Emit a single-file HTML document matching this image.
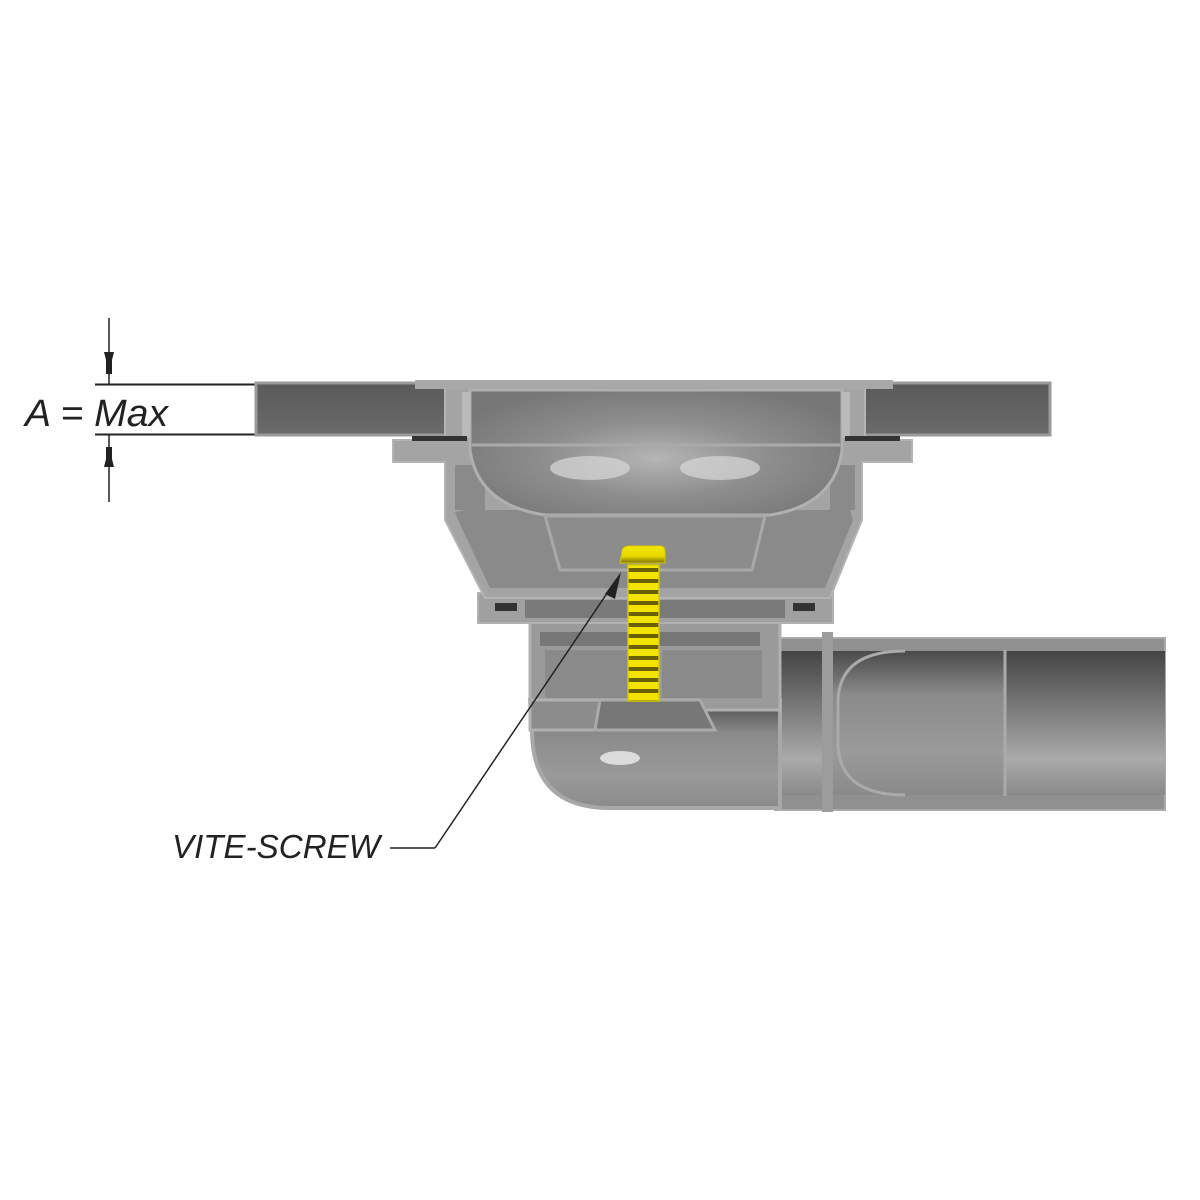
<!DOCTYPE html>
<html><head><meta charset="utf-8"><style>
html,body{margin:0;padding:0;background:#fff;width:1200px;height:1200px;overflow:hidden}
svg{display:block}
text{font-family:"Liberation Sans",sans-serif;font-style:italic;fill:#222}
</style></head><body>
<svg width="1200" height="1200" viewBox="0 0 1200 1200" xmlns="http://www.w3.org/2000/svg">
<defs>
<linearGradient id="pipe" x1="0" y1="0" x2="0" y2="1">
<stop offset="0" stop-color="#4a4a4a"/><stop offset="0.3" stop-color="#8a8a8a"/><stop offset="0.7" stop-color="#9a9a9a"/><stop offset="1" stop-color="#8a8a8a"/></linearGradient>
<linearGradient id="pipe2" x1="0" y1="0" x2="0" y2="1">
<stop offset="0" stop-color="#444"/><stop offset="0.25" stop-color="#666"/><stop offset="0.75" stop-color="#aaa"/><stop offset="1" stop-color="#8a8a8a"/></linearGradient>
<radialGradient id="bowl" cx="0.5" cy="0.55" r="0.6">
<stop offset="0" stop-color="#b5b5b5"/><stop offset="0.5" stop-color="#8e8e8e"/><stop offset="1" stop-color="#777"/></radialGradient>
<linearGradient id="slab" x1="0" y1="0" x2="0" y2="1"><stop offset="0" stop-color="#5a5a5a"/><stop offset="1" stop-color="#6a6a6a"/></linearGradient>
<linearGradient id="yel" x1="0" y1="0" x2="0" y2="1"><stop offset="0" stop-color="#f4e800"/><stop offset="0.6" stop-color="#e8d800"/><stop offset="1" stop-color="#7a6e00"/></linearGradient>
<pattern id="thread" width="30" height="11" patternUnits="userSpaceOnUse"><rect width="30" height="11" fill="#f2e400"/><rect y="7" width="30" height="4" fill="#6a6000"/></pattern>
</defs>

<!-- dimension -->
<line x1="95" y1="384.5" x2="256" y2="384.5" stroke="#222" stroke-width="2"/>
<line x1="95" y1="434.5" x2="256" y2="434.5" stroke="#222" stroke-width="2"/>
<line x1="109" y1="318" x2="109" y2="384" stroke="#222" stroke-width="1.5"/>
<polygon points="104,352 114,352 109,372" fill="#222"/>
<rect x="106" y="360" width="6" height="14" fill="#222"/>
<line x1="109" y1="435" x2="109" y2="502" stroke="#222" stroke-width="1.5"/>
<polygon points="104,467 114,467 109,447" fill="#222"/>
<rect x="106" y="447" width="6" height="14" fill="#222"/>
<text x="25" y="426" font-size="38" textLength="143" lengthAdjust="spacingAndGlyphs">A = Max</text>

<!-- slabs -->
<rect x="256" y="383" width="214" height="52" fill="url(#slab)" stroke="#9a9a9a" stroke-width="3"/>
<rect x="840" y="383" width="210" height="52" fill="url(#slab)" stroke="#9a9a9a" stroke-width="3"/>

<!-- pipe -->
<rect x="775" y="638" width="390" height="172" fill="#909090" stroke="#aaa" stroke-width="2"/>
<rect x="775" y="651" width="390" height="144" fill="url(#pipe2)"/>
<rect x="832" y="651" width="172" height="144" fill="url(#pipe)"/>
<path d="M905 651 Q840 651 838 700 L838 745 Q840 795 905 795" fill="none" stroke="#aaa" stroke-width="3"/>
<line x1="1005" y1="650" x2="1005" y2="796" stroke="#aaa" stroke-width="3"/>
<rect x="822" y="632" width="11" height="180" fill="#9c9c9c"/>

<!-- elbow -->
<path d="M530 700 L780 700 L780 808 L610 808 Q532 808 532 730 Z" fill="url(#pipe)" stroke="#a8a8a8" stroke-width="4"/>
<ellipse cx="620" cy="758" rx="20" ry="7" fill="#eee" opacity="0.8"/>

<!-- lower body -->
<rect x="530" y="620" width="250" height="90" fill="#9a9a9a" stroke="#b0b0b0" stroke-width="3"/>
<rect x="540" y="632" width="220" height="14" fill="#777"/>
<rect x="545" y="650" width="85" height="48" fill="#8a8a8a"/>
<rect x="662" y="650" width="100" height="48" fill="#8a8a8a"/>
<rect x="530" y="700" width="70" height="30" fill="#8c8c8c" stroke="#b0b0b0" stroke-width="3"/>
<path d="M600 700 L700 700 L715 730 L595 730 Z" fill="#777" stroke="#aaa" stroke-width="3"/>

<!-- ring band -->
<rect x="478" y="593" width="355" height="30" fill="#a0a0a0" stroke="#b2b2b2" stroke-width="2"/>
<rect x="525" y="600" width="260" height="18" fill="#7a7a7a"/>
<rect x="495" y="603" width="22" height="8" fill="#333"/>
<rect x="793" y="603" width="22" height="8" fill="#333"/>

<!-- upper body -->
<path d="M393 440 L445 440 L445 385 L865 385 L865 440 L912 440 L912 462 L862 462 L862 520 L830 598 L485 598 L445 520 L445 462 L393 462 Z" fill="#a4a4a4" stroke="#b4b4b4" stroke-width="2"/>
<path d="M455 512 L465 510 L850 510 L853 520 L825 588 L490 588 L458 520 Z" fill="#8a8a8a"/>
<rect x="455" y="465" width="30" height="45" fill="#8a8a8a"/>
<rect x="830" y="465" width="25" height="45" fill="#8a8a8a"/>
<!-- bowl -->
<path d="M470 390 L842 390 L842 450 Q835 505 770 515 L545 515 Q478 505 470 450 Z" fill="url(#bowl)" stroke="#b0b0b0" stroke-width="3"/>
<line x1="472" y1="445" x2="840" y2="445" stroke="#aaa" stroke-width="3"/>
<ellipse cx="590" cy="468" rx="40" ry="12" fill="#d8d8d8" opacity="0.7"/>
<ellipse cx="720" cy="468" rx="40" ry="12" fill="#d8d8d8" opacity="0.7"/>
<!-- inner cup -->
<path d="M545 516 L765 516 L752 570 L560 570 Z" fill="#8c8c8c" stroke="#a8a8a8" stroke-width="3"/>
<rect x="415" y="380" width="478" height="9" fill="#a8a8a8"/>
<rect x="462" y="392" width="8" height="46" fill="#bbb"/>
<rect x="842" y="392" width="8" height="46" fill="#bbb"/>
<rect x="412" y="436" width="55" height="5" fill="#333"/>
<rect x="845" y="436" width="55" height="5" fill="#333"/>

<!-- screw -->
<rect x="628" y="565" width="31" height="136" fill="url(#thread)" stroke="#d8c800" stroke-width="1.5"/>
<path d="M622 552 Q622 546 630 546 L660 546 Q665 546 665 552 L665 563 L620 563 Z" fill="url(#yel)" stroke="#d8c800"/>

<!-- leader -->
<line x1="390" y1="848" x2="435" y2="848" stroke="#222" stroke-width="1.5"/>
<line x1="435" y1="848" x2="616" y2="580" stroke="#222" stroke-width="1.5"/>
<polygon points="621,572 605,594 615,599" fill="#222"/>
<text x="172" y="858" font-size="33" textLength="208" lengthAdjust="spacingAndGlyphs">VITE-SCREW</text>
</svg>
</body></html>
